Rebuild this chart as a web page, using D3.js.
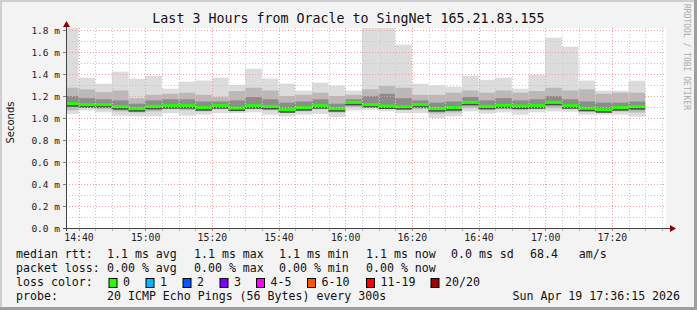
<!DOCTYPE html>
<html>
<head>
<meta charset="utf-8">
<script src="https://cdn.jsdelivr.net/npm/d3@7"></script>
<style>
  html, body { margin: 0; padding: 0; background: #f3f3f3; }
  svg { display: block; }
  text { font-family: 'DejaVu Sans Mono', monospace; }
</style>
</head>
<body>
<div id="chart"></div>
<script>
// 5-minute slots (start time), 14:35 .. 17:25
const slots = ['14:35','14:40','14:45','14:50','14:55','15:00','15:05','15:10','15:15','15:20','15:25','15:30',
  '15:35','15:40','15:45','15:50','15:55','16:00','16:05','16:10','16:15','16:20','16:25','16:30',
  '16:35','16:40','16:45','16:50','16:55','17:00','17:05','17:10','17:15','17:20','17:25'];

// rtt values in ms
const median = [1.13,1.121,1.121,1.103,1.085,1.106,1.112,1.112,1.094,1.112,1.09,1.112,
  1.106,1.075,1.094,1.112,1.085,1.142,1.121,1.109,1.103,1.121,1.085,1.094,
  1.142,1.106,1.115,1.109,1.112,1.142,1.112,1.088,1.075,1.094,1.103];
const maxRtt = [1.95,1.364,1.312,1.421,1.357,1.385,1.266,1.33,1.34,1.364,1.30,1.448,
  1.357,1.312,1.248,1.321,1.294,1.248,1.95,1.95,1.666,1.312,1.297,1.285,
  1.385,1.348,1.366,1.266,1.394,1.73,1.648,1.34,1.248,1.248,1.339];
const minRtt = [1.036,1.069,1.051,1.021,1.015,1.015,1.045,1.021,1.03,1.045,1.045,1.051,
  1.03,1.015,1.03,1.036,1.009,1.069,1.075,1.06,1.045,1.045,1.0,1.015,
  1.06,1.039,1.051,1.03,1.051,1.06,1.057,1.03,1.03,1.03,1.012];
const innerHi = [1.275,1.26,1.235,1.25,1.18,1.21,1.22,1.23,1.21,1.19,1.245,1.275,
  1.25,1.2,1.21,1.23,1.2,1.21,1.26,1.29,1.275,1.21,1.21,1.23,
  1.25,1.23,1.25,1.23,1.245,1.275,1.25,1.26,1.22,1.23,1.23];
const innerLo = [1.07,1.09,1.08,1.06,1.05,1.06,1.08,1.07,1.06,1.08,1.07,1.08,
  1.07,1.05,1.06,1.08,1.05,1.1,1.1,1.09,1.08,1.08,1.04,1.05,
  1.09,1.07,1.08,1.07,1.08,1.09,1.08,1.06,1.06,1.06,1.05];
const coreHi = [1.2,1.18,1.17,1.16,1.13,1.16,1.17,1.17,1.15,1.15,1.16,1.19,
  1.17,1.14,1.15,1.17,1.13,1.17,1.2,1.22,1.18,1.16,1.14,1.15,
  1.19,1.16,1.18,1.16,1.17,1.2,1.17,1.15,1.14,1.14,1.15];
const coreLo = [1.1,1.1,1.1,1.08,1.06,1.08,1.09,1.09,1.07,1.09,1.07,1.09,
  1.08,1.05,1.07,1.09,1.06,1.12,1.11,1.1,1.09,1.1,1.06,1.07,
  1.12,1.09,1.1,1.09,1.09,1.12,1.09,1.07,1.05,1.07,1.08];

const lossLabels = ['0','1','2','3','4-5','6-10','11-19','20/20'];
const lossColors = ['#26ff00','#00b8ff','#0059ff','#7e00ff','#ff00ff','#ff5500','#ff0000','#a10000'];

const W = 697, H = 310;
const pLeft = 66, pRight = 666, pTop = 28, pBottom = 228;

const day = (hm) => { const [h, m] = hm.split(':').map(Number); return new Date(2026, 3, 19, h, m); };
const tEnd = new Date(2026, 3, 19, 17, 36, 15);
const tStart = new Date(2026, 3, 19, 14, 36, 15);

const x = d3.scaleTime().domain([tStart, tEnd]).range([pLeft, pRight]);
const y = d3.scaleLinear().domain([0, 1.818]).range([pBottom, pTop]);

const svg = d3.select('#chart').append('svg').attr('width', W).attr('height', H);

// canvas + shaded frame
svg.append('rect').attr('width', W).attr('height', H).attr('fill', '#f3f3f3');
svg.append('rect').attr('x', 0).attr('y', 0).attr('width', W).attr('height', 2).attr('fill', '#cfcfcf');
svg.append('rect').attr('x', 0).attr('y', 0).attr('width', 2).attr('height', H).attr('fill', '#cfcfcf');
svg.append('rect').attr('x', W - 3).attr('y', 0).attr('width', 3).attr('height', H).attr('fill', '#9e9e9e');
svg.append('rect').attr('x', 0).attr('y', H - 3).attr('width', W).attr('height', 3).attr('fill', '#9e9e9e');

svg.append('rect').attr('x', pLeft).attr('y', pTop).attr('width', pRight - pLeft).attr('height', pBottom - pTop).attr('fill', '#ffffff');

svg.append('clipPath').attr('id', 'plotclip')
  .append('rect').attr('x', pLeft).attr('y', pTop).attr('width', pRight - pLeft).attr('height', pBottom - pTop);

const plot = svg.append('g').attr('clip-path', 'url(#plotclip)');

const cols = slots.map((s, i) => ({
  x0: x(day(s)), x1: x(d3.timeMinute.offset(day(s), 5)), i
}));

// smoke bands, outer to inner
const bands = [
  [minRtt, maxRtt, '#dcdcdc'],
  [innerLo, innerHi, '#b9b9b9'],
  [coreLo, coreHi, '#8c8c8c']
];
bands.forEach(([lo, hi, color]) => {
  plot.append('g').selectAll('rect').data(cols).join('rect')
    .attr('x', d => d.x0).attr('width', d => d.x1 - d.x0)
    .attr('y', d => y(hi[d.i])).attr('height', d => y(lo[d.i]) - y(hi[d.i]))
    .attr('fill', color);
});
// dark line just under the median
plot.append('g').selectAll('rect').data(cols).join('rect')
  .attr('x', d => d.x0).attr('width', d => d.x1 - d.x0)
  .attr('y', d => y(median[d.i]) + 1).attr('height', 2)
  .attr('fill', '#4a4a4a');

// grid
const grid = svg.append('g');
d3.range(0.1, 1.85, 0.2).forEach(v => {
  grid.append('line').attr('x1', pLeft).attr('x2', pRight).attr('y1', Math.round(y(v)) + 0.5).attr('y2', Math.round(y(v)) + 0.5)
    .attr('stroke', '#c8c8c8').attr('stroke-dasharray', '1,2');
});
d3.range(0.2, 1.85, 0.2).forEach(v => {
  grid.append('line').attr('x1', pLeft).attr('x2', pRight).attr('y1', Math.round(y(v)) + 0.5).attr('y2', Math.round(y(v)) + 0.5)
    .attr('stroke', '#f0a0a0').attr('stroke-dasharray', '1,2');
});
const minorTimes = d3.timeMinute.every(5).range(tStart, tEnd);
minorTimes.forEach(t => {
  const major = t.getMinutes() % 20 === 0;
  grid.append('line').attr('x1', Math.round(x(t)) + 0.5).attr('x2', Math.round(x(t)) + 0.5).attr('y1', pTop).attr('y2', pBottom)
    .attr('stroke', major ? '#f0a0a0' : '#c8c8c8').attr('stroke-dasharray', '1,2');
  svg.append('line').attr('x1', Math.round(x(t)) + 0.5).attr('x2', Math.round(x(t)) + 0.5).attr('y1', pBottom + 1).attr('y2', pBottom + 3)
    .attr('stroke', major ? '#e07070' : '#b0b0b0');
});

// median line coloured by loss (all zero loss)
plot.append('g').selectAll('rect').data(cols).join('rect')
  .attr('x', d => d.x0).attr('width', d => d.x1 - d.x0)
  .attr('y', d => y(median[d.i]) - 1.5).attr('height', 3)
  .attr('fill', lossColors[0]);

// axes
const yAxis = d3.axisLeft(y).tickValues(d3.range(0, 1.81, 0.2)).tickFormat(d => d.toFixed(1) + ' m')
  .tickSize(3).tickPadding(3);
const gy = svg.append('g').attr('transform', `translate(${pLeft},0)`).call(yAxis);
gy.select('.domain').remove();
gy.selectAll('.tick line').attr('stroke', '#808080');
gy.selectAll('text').attr('font-size', '9.5px').attr('fill', '#222').attr('font-family', 'DejaVu Sans Mono');

const xAxis = d3.axisBottom(x).ticks(d3.timeMinute.every(20)).tickFormat(d3.timeFormat('%H:%M'))
  .tickSize(0).tickPadding(6);
const gx = svg.append('g').attr('transform', `translate(0,${pBottom})`).call(xAxis);
gx.select('.domain').remove();
gx.selectAll('text').attr('font-size', '9.8px').attr('fill', '#222').attr('font-family', 'DejaVu Sans Mono');

svg.append('line').attr('x1', pLeft + 0.5).attr('x2', pLeft + 0.5).attr('y1', pBottom + 3).attr('y2', pTop - 4).attr('stroke', '#444');
svg.append('line').attr('x1', pLeft - 3).attr('x2', pRight + 6).attr('y1', pBottom + 0.5).attr('y2', pBottom + 0.5).attr('stroke', '#444');
svg.append('path').attr('d', `M${pLeft - 3},${pTop - 1} L${pLeft + 4},${pTop - 1} L${pLeft + 0.5},${pTop - 7} Z`).attr('fill', '#8b0000');
svg.append('path').attr('d', `M${pRight + 4},${pBottom - 3} L${pRight + 4},${pBottom + 4} L${pRight + 10},${pBottom + 0.5} Z`).attr('fill', '#8b0000');

// title and axis label
svg.append('text').attr('x', 348.5).attr('y', 23).attr('text-anchor', 'middle')
  .attr('font-size', '13.3px').attr('fill', '#111').text('Last 3 Hours from Oracle to SingNet 165.21.83.155');
svg.append('text').attr('transform', 'translate(14,122.5) rotate(-90)').attr('text-anchor', 'middle')
  .style('font-family', 'DejaVu Sans')
  .attr('font-size', '10px').attr('fill', '#111').text('Seconds');
svg.append('text').attr('transform', 'translate(684,4) rotate(90)')
  .attr('font-size', '8px').attr('fill', '#aaaaaa').text('RRDTOOL / TOBI OETIKER');

// legend
const lg = svg.append('g').attr('font-size', '11.6px').attr('fill', '#111');
const rows = [258, 272, 286, 300];
const put = (tx, xx, yy) => lg.append('text').attr('x', xx).attr('y', yy).style('white-space', 'pre').text(tx);
put('median rtt:', 16, rows[0]);
put('1.1 ms avg', 107, rows[0]);
put('1.1 ms max', 194, rows[0]);
put('1.1 ms min', 279, rows[0]);
put('1.1 ms now', 366, rows[0]);
put('0.0 ms sd', 451, rows[0]);
put('68.4   am/s', 530, rows[0]);
put('packet loss:', 16, rows[1]);
put('0.00 % avg', 107, rows[1]);
put('0.00 % max', 194, rows[1]);
put('0.00 % min', 279, rows[1]);
put('0.00 % now', 366, rows[1]);
put('loss color:', 16, rows[2]);
const boxX = [108.5, 145.5, 182.5, 219.5, 256, 307, 366, 430.5];
lossLabels.forEach((l, i) => {
  lg.append('rect').attr('x', boxX[i] + 0.5).attr('y', 278.5).attr('width', 8).attr('height', 9)
    .attr('fill', lossColors[i]).attr('stroke', '#000');
  put(l, boxX[i] + 14.5, rows[2]);
});
put('probe:', 16, rows[3]);
put('20 ICMP Echo Pings (56 Bytes) every 300s', 107, rows[3]);
put('Sun Apr 19 17:36:15 2026', 512.5, rows[3]);
</script>
</body>
</html>
